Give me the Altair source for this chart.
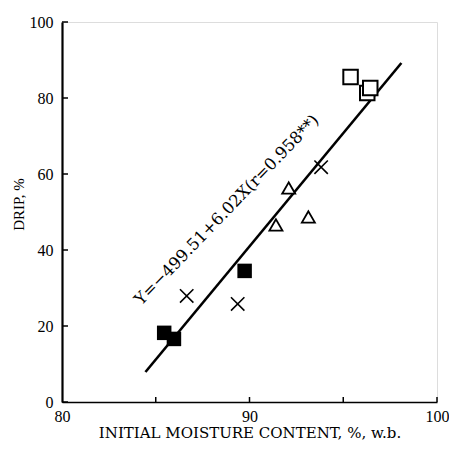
import altair as alt
import pandas as pd

# data
filled_x = [85.45, 85.97, 89.74]
filled_y = [18.2, 16.6, 34.5]
cross_x = [86.65, 89.37, 93.82]
cross_y = [27.9, 25.8, 61.8]
tri_x = [91.41, 92.09, 93.14]
tri_y = [46.6, 56.3, 48.7]
open_x = [95.39, 96.28, 96.44]
open_y = [85.5, 81.3, 82.6]
line_x = [84.45, 98.1]
line_y = [7.9, 89.2]
xticks = [80, 85, 90, 95, 100]
yticks = [0, 20, 40, 60, 80, 100]
eq_text = "Y=−499.51+6.02X(r=0.958**)"

FONT = "Liberation Serif"
WFONT = "DejaVu Serif"
xs = alt.Scale(domain=[80, 100], nice=False)
ys = alt.Scale(domain=[0, 100], nice=False)

def df(x, y):
    return pd.DataFrame({"x": x, "y": y})

base_x = alt.X("x:Q", scale=xs, axis=alt.Axis(
    values=xticks, ticks=False, labelExpr="datum.value % 10 == 0 ? datum.label : ''",
    grid=False, domainColor="black", domainWidth=1.6, labelFont=FONT, labelFontSize=16,
    labelColor="black", labelPadding=6, title="INITIAL MOISTURE CONTENT, %, w.b.",
    titleFont=WFONT, titleFontSize=15, titleFontWeight="normal", titleColor="black",
    titleY=30, titleBaseline="middle", labelFlush=False))
base_y = alt.Y("y:Q", scale=ys, axis=alt.Axis(
    values=yticks, ticks=False, grid=False, domainColor="black", domainWidth=2.2,
    labelFont=FONT, labelFontSize=16, labelColor="black", labelPadding=9,
    title="DRIP, %", titleFont=FONT, titleFontSize=15, titleFontWeight="normal",
    titleColor="black", titleX=-44, titleY=182, titleBaseline="middle", titleAngle=270,
    labelFlush=False))

line = alt.Chart(df(line_x, line_y)).mark_line(color="black", strokeWidth=2.6).encode(x=base_x, y=base_y)

xt = alt.Chart(pd.DataFrame({"x": xticks[1:]})).mark_rule(color="black", strokeWidth=1.5).encode(
    x=alt.X("x:Q", scale=xs), y=alt.value(380), y2=alt.value(375))
yt = alt.Chart(pd.DataFrame({"y": yticks})).mark_rule(color="black", strokeWidth=1.5).encode(
    y=alt.Y("y:Q", scale=ys), x=alt.value(0), x2=alt.value(6))

filled = alt.Chart(df(filled_x, filled_y)).mark_point(
    shape="square", size=210, filled=True, color="black", opacity=1).encode(
    x=alt.X("x:Q", scale=xs), y=alt.Y("y:Q", scale=ys))
opens = alt.Chart(df(open_x, open_y)).mark_point(
    shape="square", size=210, fill="white", stroke="black", strokeWidth=2, opacity=1, fillOpacity=1).encode(
    x=alt.X("x:Q", scale=xs), y=alt.Y("y:Q", scale=ys))
tris = alt.Chart(df(tri_x, tri_y)).mark_point(
    shape="triangle-up", size=170, fill="white", stroke="black", strokeWidth=1.8, opacity=1, fillOpacity=1).encode(
    x=alt.X("x:Q", scale=xs), y=alt.Y("y:Q", scale=ys))
crosses = alt.Chart(df(cross_x, cross_y)).mark_point(
    shape="M-1,-1L1,1M1,-1L-1,1", size=180, stroke="black", strokeWidth=1.6, opacity=1).encode(
    x=alt.X("x:Q", scale=xs), y=alt.Y("y:Q", scale=ys))

eq = alt.Chart(pd.DataFrame({"x": [88.8], "y": [50.5], "t": [eq_text]})).mark_text(
    font=WFONT, fontSize=16.5, angle=314, color="black", align="center", baseline="middle").encode(
    x=alt.X("x:Q", scale=xs), y=alt.Y("y:Q", scale=ys), text="t:N")

chart = alt.layer(line, xt, yt, tris, crosses, filled, opens, eq).properties(
    width=375, height=380,
    autosize=alt.AutoSizeParams(type="none"),
    padding={"left": 54, "top": 14, "right": 12, "bottom": 39},
).configure_view(stroke=None).configure(background="white")

chart.save("out.html", embed_options={"renderer": "svg", "actions": False})
